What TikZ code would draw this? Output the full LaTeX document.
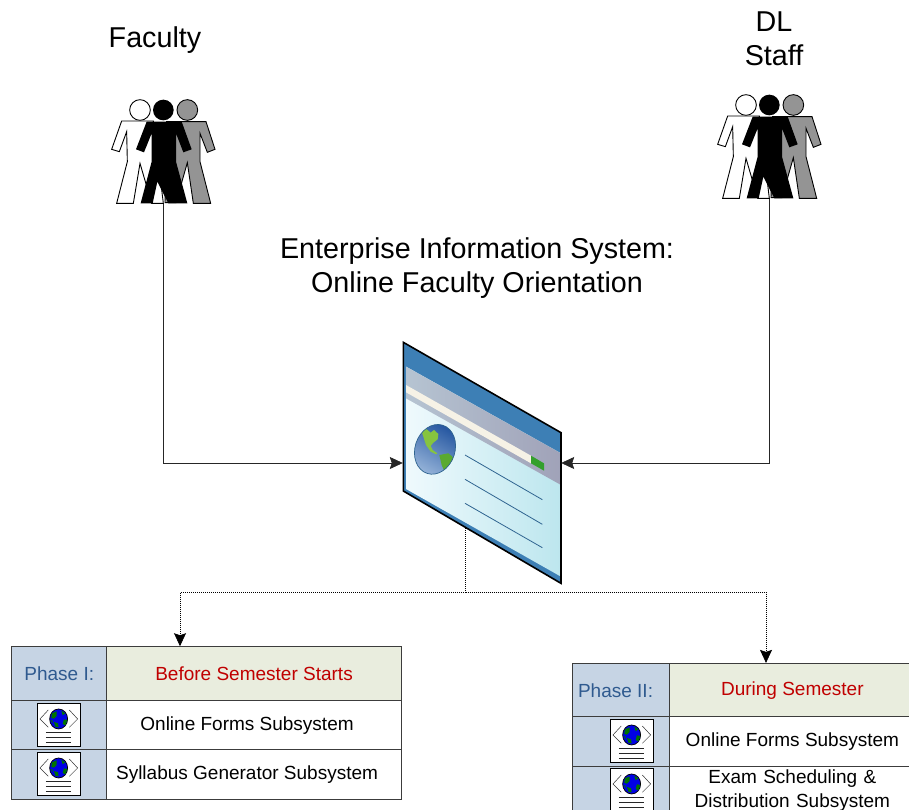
\documentclass[tikz,border=0pt]{standalone}
\usepackage{fontspec}
\setmainfont{Liberation Sans}
\usetikzlibrary{arrows.meta}
\definecolor{cellblue}{HTML}{C6D4E4}
\definecolor{cellgreen}{HTML}{E9EDDE}
\definecolor{phasetxt}{HTML}{2F5A8F}
\definecolor{redtxt}{HTML}{C00000}
\definecolor{rulegray}{HTML}{3C3C3C}
\definecolor{wintitle}{HTML}{3D7FB5}
\definecolor{winbandL}{HTML}{B6C4D2}
\definecolor{winbandR}{HTML}{A0A2B8}
\definecolor{winbodyL}{HTML}{F0FAFD}
\definecolor{winbodyR}{HTML}{BCE6EE}
\definecolor{wincream}{HTML}{F6F2E6}
\definecolor{wingreen}{HTML}{33A02C}
\definecolor{winline}{HTML}{2F6490}
\definecolor{globeL}{HTML}{86C440}
\definecolor{globeD}{HTML}{5AAA30}
\definecolor{globeC}{HTML}{A0BCDE}
\definecolor{globeO}{HTML}{1C4F9C}
\tikzset{
  big/.style={font=\fontsize{28.7}{33.5}\selectfont,align=center,inner sep=0pt},
  cellbase/.style={draw=rulegray,line width=0.9pt,inner sep=0pt,anchor=north west,align=center,font=\fontsize{19}{24}\selectfont},
  phasecell/.style={cellbase,fill=cellblue,text=phasetxt},
  headcell/.style={cellbase,fill=cellgreen,text=redtxt},
  plaincell/.style={cellbase,fill=white},
  solidlink/.style={draw=black!85,line width=0.7pt,-{Stealth[length=13pt,width=12pt,inset=2pt]}},
  dotlink/.style={draw=black,line width=0.7pt,dash pattern=on 1pt off 1pt},
  anchorbox/.style={inner sep=0pt,minimum width=#1},
  people/.pic={
    \begin{scope}[scale=1/3]
      \draw[fill=white,line width=0.9pt] (120,60) circle (31);
      \draw[fill=white,line width=0.9pt,line join=miter] (65,93)--(160,93)--(190,340)--(155,340)--(120,220)--(100,340)--(50,340)--(82,215)--(80,125)--(58,185)--(35,178)--cycle;
      \draw[fill=black!42,line width=0.9pt] (262,60) circle (31);
      \draw[fill=black!42,line width=0.9pt] (200,95)--(318,95)--(345,178)--(322,187)--(300,130)--(300,215)--(332,340)--(280,340)--(262,218)--(228,338)--(195,338)--cycle;
      \fill[black] (190,60) circle (31);
      \fill[black] (140,95)--(245,95)--(275,178)--(250,187)--(228,130)--(228,215)--(262,340)--(205,340)--(172,275)--(158,340)--(122,340)--(155,215)--(155,130)--(132,187)--(108,178)--cycle;
    \end{scope}
  },
  webdoc/.pic={
    \begin{scope}[scale=1/3]
      \draw[fill=white,line width=0.7pt] (0,0) rectangle (130,130);
      \draw[line width=0.5pt,black!80] (33,20)--(8,47)--(33,72) (96,20)--(121,47)--(96,72);
      \draw[fill=blue!90!black,line width=0.7pt] (64,47) ellipse (27 and 30);
      \fill[green!45!black] (44,30)--(58,24)--(58,38)--(50,46)--(42,44)--cycle
        (72,22)--(84,30)--(76,36)--cycle
        (50,56)--(62,60)--(64,72)--(54,70)--cycle
        (80,48)--(90,50)--(84,66)--(76,62)--cycle
        (40,50)--(46,52)--(46,60)--cycle;
      \draw[black!85,line width=0.7pt] (26,87)--(101,87) (26,102)--(101,102) (26,117)--(101,117);
    \end{scope}
  }
}
\begin{document}
\begin{tikzpicture}[x=1pt,y=-1pt]
\useasboundingbox (0,0) rectangle (909,810);
\clip (0,0) rectangle (909,810);
\fill[white] (0,0) rectangle (909,810);

% titles
\node[big] (facultylabel) at (155,40) {Faculty};
\node[big] (stafflabel) at (774,39) {DL\\Staff};
\node[big] (systitle) at (477,268) {Enterprise Information System:\\Online Faculty Orientation};

% people
\pic at (100,90) {people};
\pic at (706,85) {people};
\coordinate (facfoot) at (163,204);
\coordinate (stafffoot) at (769,199);

% window
\begin{scope}[shift={(385,335)},scale=1/3]
  \fill[wintitle] (55,22)--(528,293)--(528,745)--(55,468)--cycle;
  \begin{scope}
    \clip (63,95)--(528,355)--(528,725)--(63,462)--cycle;
    \shade[left color=winbodyL,right color=winbodyR] (55,90) rectangle (530,750);
    \shade[left color=winbandL,right color=winbandR] (63,95)--(528,355)--(528,450)--(63,190)--cycle;
    \fill[wincream] (63,150)--(438,362)--(438,385)--(63,172)--cycle;
    \fill[wingreen] (438,362)--(477,385)--(477,407)--(438,385)--cycle;
  \end{scope}
  \begin{scope}
    \clip[rotate around={-18:(150,343)}] (150,343) ellipse (60 and 76);
    \shade[top color=globeO,bottom color=globeC,shading angle=-30] (60,255) rectangle (240,435);
    \fill[globeL] (107,280)--(125,283)--(137,293)--(147,285)--(160,297)--(158,313)--(145,323)--(137,333)--(143,345)--(157,355)--(153,358)--(137,350)--(123,330)--(115,305)--cycle;
    \fill[globeD] (163,360)--(190,355)--(200,363)--(208,373)--(200,387)--(187,400)--(180,413)--(170,390)--cycle;
  \end{scope}
  \draw[winline,line width=0.7pt,rotate around={-18:(150,343)}] (150,343) ellipse (60 and 76);
  \draw[winline,line width=0.8pt] (240,360)--(472,494) (240,433)--(472,568) (240,505)--(472,638);
  \draw[black,line width=1.6pt,line join=miter] (55,22)--(528,293)--(528,745)--(55,468)--cycle;
\end{scope}
\node[anchorbox=158pt,minimum height=241pt] (win) at (482,463) {};
\coordinate (winbottom) at (465.5,528);

% table 1
\node[phasecell,minimum width=95.9pt,minimum height=54.9pt] (t1a) at (10.9,646.2) {Phase I:};
\node[headcell,minimum width=295.4pt,minimum height=54.9pt] (t1b) at (105.9,646.2) {Before Semester Starts};
\node[phasecell,minimum width=95.9pt,minimum height=49.6pt] (t1c) at (10.9,700.2) {};
\node[plaincell,minimum width=295.4pt,minimum height=49.6pt] (t1d) at (105.9,700.2) {\hspace*{-14pt}Online Forms Subsystem};
\node[phasecell,minimum width=95.9pt,minimum height=49.6pt] (t1e) at (10.9,748.9) {};
\node[plaincell,minimum width=295.4pt,minimum height=49.6pt] (t1f) at (105.9,748.9) {\hspace*{-14pt}Syllabus Generator Subsystem};
\pic at (37.3,703.3) {webdoc};
\pic at (37.3,752.3) {webdoc};

% table 2
\node[phasecell,minimum width=98.4pt,minimum height=54.4pt] (t2a) at (571.9,662.9) {\hspace*{-12pt}Phase II:};
\node[headcell,minimum width=245pt,minimum height=54.4pt] (t2b) at (669.4,662.9) {During Semester};
\node[phasecell,minimum width=98.4pt,minimum height=50.2pt] (t2c) at (571.9,716.4) {};
\node[plaincell,minimum width=245pt,minimum height=50.2pt] (t2d) at (669.4,716.4) {Online Forms Subsystem};
\node[phasecell,minimum width=98.4pt,minimum height=48pt] (t2e) at (571.9,765.7) {};
\node[plaincell,minimum width=245pt,minimum height=48pt,text width=240pt] (t2f) at (669.4,765.7) {Exam Scheduling \&\\Distribution Subsystem};
\pic at (610.3,719.3) {webdoc};
\pic at (610.3,768.3) {webdoc};

% connectors
\coordinate (t1in) at (180,646.2);
\coordinate (t2in) at (766,662.9);
\coordinate (split) at (465.5,592);
\draw[solidlink] (facfoot) |- (win.west);
\draw[solidlink] (stafffoot) |- (win.east);
\draw[dotlink] (winbottom) -- (split);
\draw[dotlink,-{Stealth[length=13pt,width=12pt,inset=2pt]}] (split) -| (t1in);
\draw[dotlink,-{Stealth[length=13pt,width=12pt,inset=2pt]}] (split) -| (t2in);
\end{tikzpicture}
\end{document}
